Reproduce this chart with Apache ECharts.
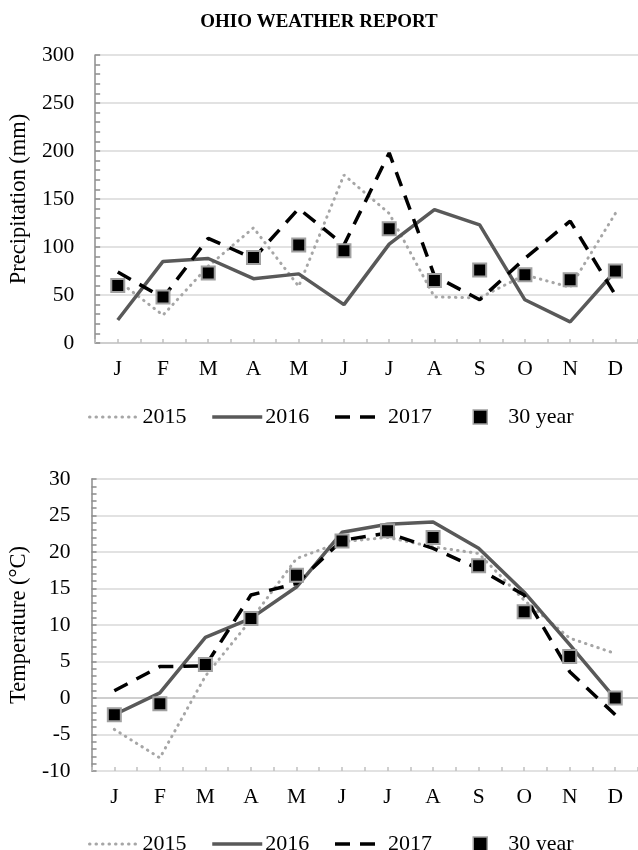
<!DOCTYPE html>
<html>
<head>
<meta charset="utf-8">
<script src="https://cdn.jsdelivr.net/npm/echarts@6/dist/echarts.min.js"></script>
<style>html,body{margin:0;padding:0;background:#fff}#c{width:638px;height:850px}</style>
</head>
<body>
<div id="c"></div>
<script>
const months = ['J','F','M','A','M','J','J','A','S','O','N','D'];
const halfTicks = ['','','','','','','','','','','','','','','','','','','','','','','',''];
const seriesNames = ['2015','2016','2017','30 year'];

const precip2015 = [65, 29, 80, 120, 59, 175, 135, 48, 47, 71, 58, 135];
const precip2016 = [24, 85, 88, 67, 72, 40, 103, 139, 123, 45, 22, 75];
const precip2017 = [74, 47, 109, 88, 140, 102, 198, 70, 45, 88, 127, 50];
const precip30yr = [60, 48, 73, 89, 102, 96, 119, 65, 76, 71, 66, 75];
const precipTicks = [0, 50, 100, 150, 200, 250, 300];

const temp2015 = [-4.3, -8.2, 3.0, 10.7, 19.1, 21.4, 22.0, 20.7, 19.8, 13.4, 8.2, 6.1];
const temp2016 = [-2.3, 0.7, 8.3, 10.9, 15.2, 22.7, 23.8, 24.1, 20.5, 14.5, 7.3, -0.1];
const temp2017 = [1.0, 4.3, 4.4, 14.1, 15.7, 21.6, 22.6, 20.5, 17.7, 14.1, 3.6, -2.3];
const temp30yr = [-2.3, -0.8, 4.6, 10.9, 16.8, 21.5, 22.9, 22.0, 18.1, 11.8, 5.7, 0.0];
const tempTicks = [-10, -5, 0, 5, 10, 15, 20, 25, 30];

const FONT = 'Liberation Serif';
const styles = {
  '2015': {color: '#a6a6a6', width: 3, type: [0.5, 6], cap: 'round'},
  '2016': {color: '#595959', width: 3.5, type: 'solid', cap: 'butt'},
  '2017': {color: '#000000', width: 3.5, type: [15, 10], cap: 'butt'}
};

function lineSeries(name, data, idx) {
  const s = styles[name];
  return {
    name: name, type: 'line', data: data, xAxisIndex: idx * 2, yAxisIndex: idx,
    symbol: 'none', smooth: false, z: 2,
    lineStyle: {color: s.color, width: s.width, type: s.type, cap: s.cap},
    itemStyle: {color: s.color}
  };
}
function squareSeries(data, idx) {
  return {
    name: '30 year', type: 'scatter', data: data, xAxisIndex: idx * 2, yAxisIndex: idx,
    symbol: 'rect', symbolSize: 13, z: 5,
    itemStyle: {color: '#000', borderColor: '#a0a0a0', borderWidth: 2, opacity: 1}
  };
}
function legend(top) {
  const lineItem = n => ({name: n, itemStyle: {opacity: 0}, lineStyle: {
    color: styles[n].color, width: styles[n].width, type: styles[n].type, cap: styles[n].cap}});
  return {
    top: top, left: 83, itemWidth: 50, itemHeight: 14, itemGap: 24,
    textStyle: {fontFamily: FONT, fontSize: 22, color: '#000', padding: [0, 0, 0, -2]},
    formatter: n => n === '2017' ? n + '\u00a0\u00a0\u00a0' : n,
    data: [
      lineItem('2015'), lineItem('2016'), lineItem('2017'),
      {name: '30 year', icon: 'path://M0,0h10v10h-10z',
        itemStyle: {color: '#000', borderColor: '#a0a0a0', borderWidth: 1.5, opacity: 1}}
    ]
  };
}
function xAxes(idx) {
  return [
    {
      type: 'category', gridIndex: idx, data: months, boundaryGap: true,
      axisLine: {lineStyle: {color: '#c8c8c8', width: 1.5}},
      axisTick: {show: false},
      axisLabel: {fontFamily: FONT, fontSize: 21.5, color: '#000', margin: 15, interval: 0},
      splitLine: {show: false}
    },
    {
      type: 'category', gridIndex: idx, data: halfTicks, boundaryGap: true, position: 'bottom',
      axisLine: {show: false},
      axisTick: {show: true, inside: true, length: 4, interval: 0, lineStyle: {color: '#c0c0c0', width: 1.5}},
      axisLabel: {show: false}, splitLine: {show: false}
    }
  ];
}
function yAxis(idx, min, max, interval, name, gap, ticks) {
  return {
    type: 'value', gridIndex: idx, min: min, max: max, interval: interval,
    name: name, nameLocation: 'middle', nameGap: gap,
    nameTextStyle: {fontFamily: FONT, fontSize: 22.5, color: '#000'},
    axisLine: {show: true, lineStyle: {color: '#8c8c8c', width: 1.5}},
    axisTick: {show: true, inside: true, length: 5, lineStyle: {color: '#8c8c8c', width: 1.5}},
    minorTick: {show: true, splitNumber: 5, length: 5, lineStyle: {color: '#8c8c8c', width: 1.5}},
    axisLabel: {fontFamily: FONT, fontSize: 21.5, color: '#000', margin: 21,
      formatter: v => ticks.includes(v) ? String(v) : ''},
    splitLine: {show: true, lineStyle: {color: '#d9d9d9', width: 1.5}}
  };
}

const chart = echarts.init(document.getElementById('c'), null, {renderer: 'canvas'});
chart.setOption({
  backgroundColor: '#fff',
  animation: false,
  title: {text: 'OHIO WEATHER REPORT', left: 'center', top: 8,
    textStyle: {fontFamily: FONT, fontSize: 19, fontWeight: 'bold', color: '#000'}},
  legend: [legend(401), legend(828)],
  grid: [
    {left: 94, top: 55, width: 553, height: 288},
    {left: 89.5, top: 479, width: 556.5, height: 292}
  ],
  xAxis: [...xAxes(0), ...xAxes(1)],
  yAxis: [
    yAxis(0, 0, 300, 50, 'Precipitation (mm)', 58, precipTicks),
    yAxis(1, -10, 30, 5, 'Temperature (°C)', 53, tempTicks)
  ],
  series: [
    lineSeries('2015', precip2015, 0),
    lineSeries('2016', precip2016, 0),
    lineSeries('2017', precip2017, 0),
    squareSeries(precip30yr, 0),
    lineSeries('2015', temp2015, 1),
    lineSeries('2016', temp2016, 1),
    lineSeries('2017', temp2017, 1),
    squareSeries(temp30yr, 1)
  ]
});
</script>
</body>
</html>
